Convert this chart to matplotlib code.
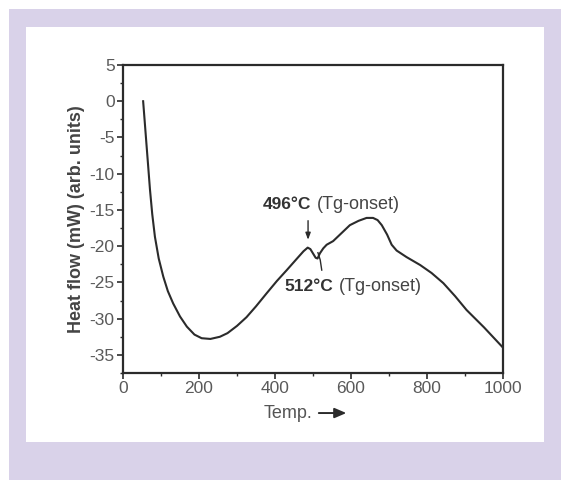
import numpy as np
import matplotlib.pyplot as plt
from matplotlib.patches import Rectangle
from matplotlib.ticker import MultipleLocator

plt.rcParams['font.family'] = ['Liberation Sans', 'DejaVu Sans']
plt.rcParams['axes.unicode_minus'] = False

BORDER = '#d9d2e9'
INK = '#2b2b2b'

temp = [53, 57, 62, 66, 71, 77, 84, 94, 106, 118, 132, 150, 168, 188, 207, 230, 255,
        275, 300, 325, 350, 378, 405, 431, 458, 475, 486, 493, 500, 507, 512, 518,
        527, 536, 553, 575, 597, 620, 641, 658, 670, 681, 695, 707, 720, 746, 782,
        812, 843, 874, 904, 950, 1000]
heat = [0.0, -2.7, -6.1, -8.8, -12.2, -15.6, -18.7, -21.7, -24.2, -26.2, -27.9,
        -29.7, -31.1, -32.2, -32.7, -32.8, -32.5, -32.0, -31.0, -29.8, -28.3, -26.5,
        -24.8, -23.3, -21.7, -20.7, -20.2, -20.4, -21.0, -21.6, -21.7, -21.0,
        -20.3, -19.8, -19.3, -18.2, -17.1, -16.5, -16.1, -16.1, -16.4, -17.1,
        -18.4, -19.8, -20.6, -21.5, -22.6, -23.7, -25.1, -26.9, -28.8, -31.2, -34.0]

x_ticks = [0, 200, 400, 600, 800, 1000]
y_ticks = [5, 0, -5, -10, -15, -20, -25, -30, -35]

fig = plt.figure(figsize=(5.61, 4.80), dpi=100)
fig.patch.set_facecolor('white')
# lavender frame and white panel behind the chart
fig.patches.append(Rectangle((9 / 561, 0), 552 / 561, 471 / 480, transform=fig.transFigure,
                             facecolor=BORDER, edgecolor='none', zorder=-2))
fig.patches.append(Rectangle((26 / 561, 38 / 480), 518 / 561, 415 / 480, transform=fig.transFigure,
                             facecolor='white', edgecolor='none', zorder=-1))

ax = fig.add_axes([123 / 561, 107 / 480, 380 / 561, 308 / 480])
ax.set_zorder(2)
ax.set_facecolor('white')
ax.plot(temp, heat, color=INK, lw=1.5)

ax.set_xlim(0, 1000)
ax.set_ylim(-37.5, 5)
ax.set_xticks(x_ticks)
ax.set_yticks(y_ticks)
ax.xaxis.set_minor_locator(MultipleLocator(100))
ax.yaxis.set_minor_locator(MultipleLocator(2.5))
ax.tick_params(which='major', direction='out', length=4, width=1.2, colors=INK,
               labelsize=12.5, labelcolor='#5a5a5a', pad=2)
ax.tick_params(which='minor', direction='out', length=2.5, width=1.0, colors=INK)
for s in ax.spines.values():
    s.set_linewidth(1.6)
    s.set_color(INK)

ax.set_ylabel('Heat flow (mW) (arb. units)', fontsize=13, fontweight='bold',
              color='#444444', labelpad=3)
ax.text(0.4355, -0.13, 'Temp.', transform=ax.transAxes, fontsize=13, color='#555555',
        ha='center', va='center')
ax.annotate('', xy=(0.595, -0.13), xytext=(0.508, -0.13), xycoords='axes fraction',
            arrowprops=dict(arrowstyle='-|>,head_length=0.7,head_width=0.3', color=INK, lw=1.4),
            annotation_clip=False)

# annotations for the two Tg onsets
ax.annotate('', xy=(487, -19.5), xytext=(487, -16.1),
            arrowprops=dict(arrowstyle='-|>,head_length=0.4,head_width=0.15', color=INK, lw=1.0))
t1 = ax.text(368, -14.3, '496°C', fontsize=12.5, fontweight='bold', color='#333333', va='center')
ax.annotate('(Tg-onset)', xy=(1, 0.5), xycoords=t1, xytext=(4, 0), textcoords='offset points',
            fontsize=13, color='#444444', va='center')
ax.plot([513, 519, 523], [-20.9, -21.9, -23.3], color=INK, lw=1.0)
t2 = ax.text(426, -25.6, '512°C', fontsize=12.5, fontweight='bold', color='#333333', va='center')
ax.annotate('(Tg-onset)', xy=(1, 0.5), xycoords=t2, xytext=(4, 0), textcoords='offset points',
            fontsize=13, color='#444444', va='center')

fig.savefig('out.png', dpi=100)
